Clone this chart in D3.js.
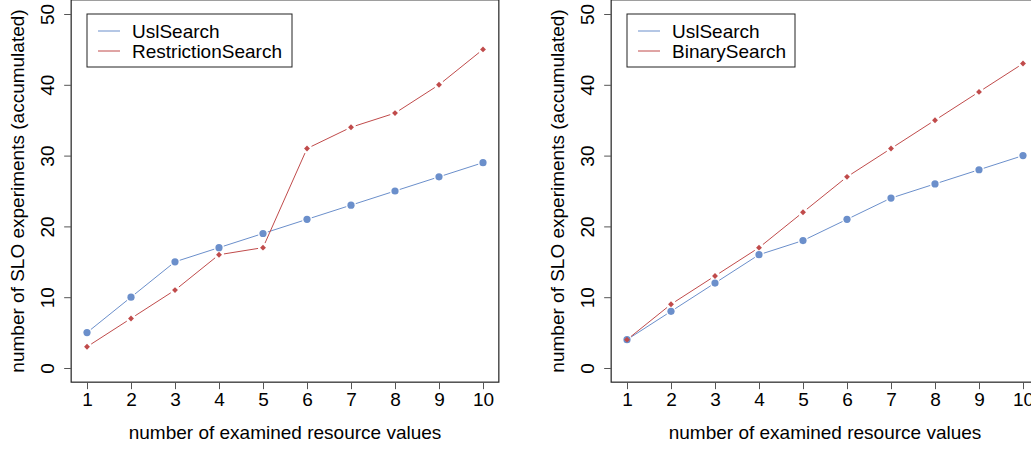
<!DOCTYPE html>
<html>
<head>
<meta charset="utf-8">
<script src="https://cdn.jsdelivr.net/npm/d3@7"></script>
<style>
  body { margin: 0; background: #fff; }
  text { font-family: "Liberation Sans", Arial, sans-serif; fill: #000; }
</style>
</head>
<body>
<svg width="1031" height="450"></svg>
<script>
// data
const xValues = [1, 2, 3, 4, 5, 6, 7, 8, 9, 10];
const uslLeft = [5, 10, 15, 17, 19, 21, 23, 25, 27, 29];
const restrictionSearch = [3, 7, 11, 16, 17, 31, 34, 36, 40, 45];
const uslRight = [4, 8, 12, 16, 18, 21, 24, 26, 28, 30];
const binarySearch = [4, 9, 13, 17, 22, 27, 31, 35, 39, 43];
const yTicks = [0, 10, 20, 30, 40, 50];

const blue = "#6b8fcb", red = "#c04b4b";
const fs = "19px";

let svg = d3.select("svg");

function panel(offsetX, series) {
  let g = svg.append("g").attr("transform", "translate(" + offsetX + ",0)");

  let x = d3.scaleLinear().domain([1, 10]).range([87, 483]);
  let y = d3.scaleLinear().domain([0, 50]).range([368, 14]);

  // R style 4% padding around the data range
  let x0 = x(0.64), x1 = x(10.36), y0 = y(-2), y1 = y(52);

  // box
  g.append("rect")
    .attr("x", x0).attr("y", y1)
    .attr("width", x1 - x0).attr("height", y0 - y1)
    .attr("fill", "none").attr("stroke", "#222").attr("stroke-width", 1.2);

  // x axis
  let xa = g.append("g").attr("transform", "translate(0," + y0 + ")")
    .call(d3.axisBottom(x).tickValues(xValues).tickSize(7).tickPadding(3).tickFormat(d3.format("d")));
  xa.select(".domain").remove();
  xa.selectAll("line").attr("stroke", "#555");
  xa.selectAll("text").style("font-size", fs).style("font-family", "Liberation Sans, Arial, sans-serif");

  // y axis, labels turned like R's default
  let ya = g.append("g").attr("transform", "translate(" + x0 + ",0)")
    .call(d3.axisLeft(y).tickValues(yTicks).tickSize(7).tickPadding(0).tickFormat(d3.format("d")));
  ya.select(".domain").remove();
  ya.selectAll("line").attr("stroke", "#555");
  ya.selectAll("text")
    .attr("x", null)
    .attr("text-anchor", "middle")
    .attr("transform", "translate(-24,0) rotate(-90)")
    .attr("dy", "0.35em")
    .style("font-size", fs).style("font-family", "Liberation Sans, Arial, sans-serif");

  g.append("text")
    .attr("x", (x0 + x1) / 2).attr("y", 439)
    .attr("text-anchor", "middle").style("font-size", fs)
    .text("number of examined resource values");

  g.append("text")
    .attr("transform", "translate(24," + (y0 + y1) / 2 + ") rotate(-90)")
    .attr("text-anchor", "middle").style("font-size", fs)
    .text("number of SLO experiments (accumulated)");

  // lines with gaps around the points
  let gap = 5;
  series.forEach(s => {
    let pts = xValues.map((v, i) => [x(v), y(s.values[i])]);
    for (let i = 0; i < pts.length - 1; i++) {
      let [ax, ay] = pts[i], [bx, by] = pts[i + 1];
      let len = Math.hypot(bx - ax, by - ay);
      if (len <= 2 * gap) continue;
      let ux = (bx - ax) / len, uy = (by - ay) / len;
      g.append("line")
        .attr("x1", ax + ux * gap).attr("y1", ay + uy * gap)
        .attr("x2", bx - ux * gap).attr("y2", by - uy * gap)
        .attr("stroke", s.color).attr("stroke-width", 1);
    }
    if (s.shape == "circle") {
      g.selectAll(null).data(pts).enter().append("circle")
        .attr("cx", d => d[0]).attr("cy", d => d[1]).attr("r", 3.6)
        .attr("fill", s.color);
    } else {
      g.selectAll(null).data(pts).enter().append("path")
        .attr("d", d3.symbol().type(d3.symbolDiamond2).size(22))
        .attr("transform", d => "translate(" + d[0] + "," + d[1] + ")")
        .attr("fill", s.color);
    }
  });

  // legend
  let lg = g.append("g");
  lg.append("rect")
    .attr("x", 87).attr("y", 14)
    .attr("width", series[1].boxW).attr("height", 53)
    .attr("fill", "#fff").attr("stroke", "#222").attr("stroke-width", 1);
  series.forEach((s, i) => {
    let ly = 31 + i * 20;
    lg.append("line").attr("x1", 98).attr("x2", 120).attr("y1", ly).attr("y2", ly)
      .attr("stroke", s.color).attr("stroke-width", 1);
    lg.append("text").attr("x", 132).attr("y", ly).attr("dy", "0.35em")
      .style("font-size", fs).text(s.name);
  });
}

panel(0, [
  { name: "UslSearch", values: uslLeft, color: blue, shape: "circle" },
  { name: "RestrictionSearch", values: restrictionSearch, color: red, shape: "diamond", boxW: 205 }
]);
panel(540, [
  { name: "UslSearch", values: uslRight, color: blue, shape: "circle" },
  { name: "BinarySearch", values: binarySearch, color: red, shape: "diamond", boxW: 168 }
]);
</script>
</body>
</html>
